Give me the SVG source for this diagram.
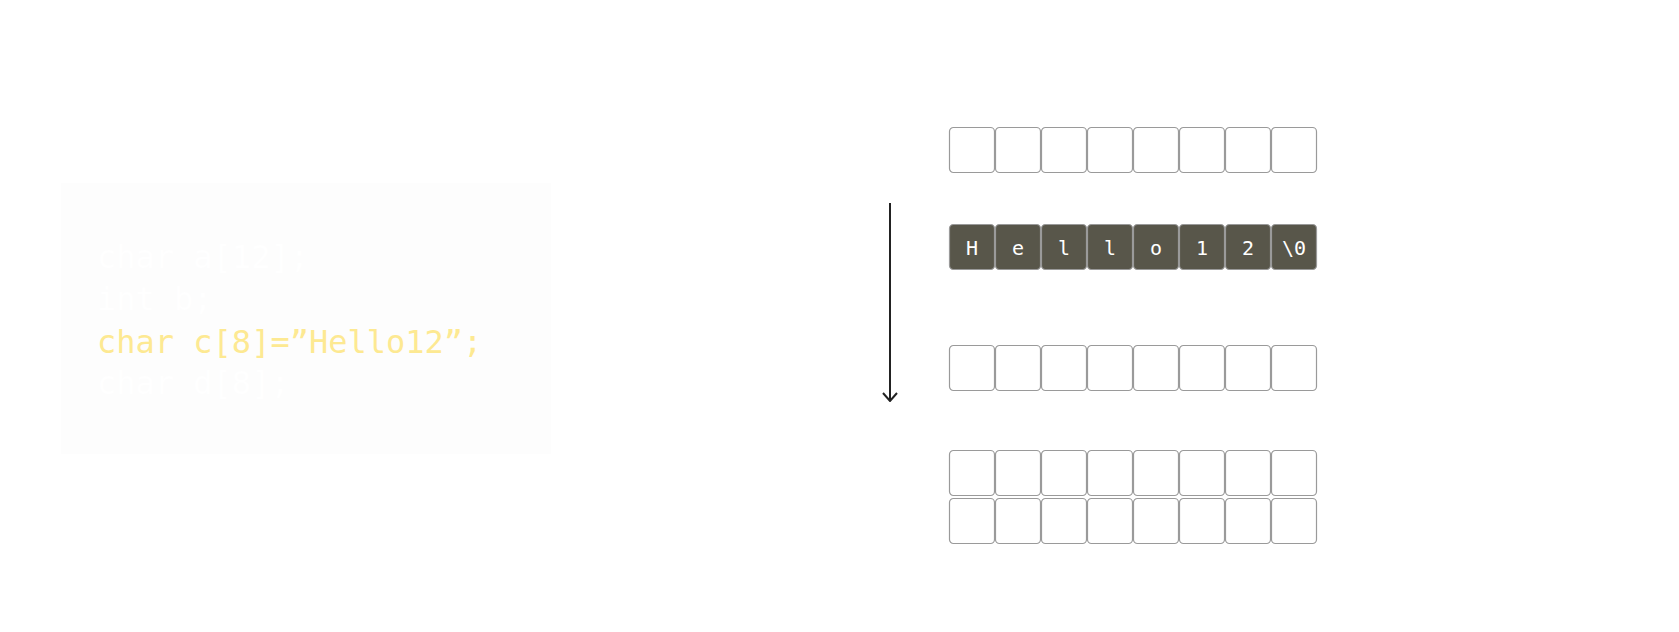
<svg xmlns="http://www.w3.org/2000/svg" width="1679" height="632" viewBox="0 0 1679 632">
<defs>
<style>
.cell{fill:#ffffff;stroke:#9a9a9a;stroke-width:1.2}
.dark{fill:#58564a;stroke:#9a9a9a;stroke-width:1.2}
.ct{font-family:"DejaVu Sans Mono","Liberation Mono",monospace;font-size:20px;fill:#ffffff;text-anchor:middle}
.code{font-family:"DejaVu Sans Mono","Liberation Mono",monospace;font-size:32px}
</style>
<marker id="arr" viewBox="0 0 10 16" refX="9" refY="8" markerWidth="10" markerHeight="16" markerUnits="userSpaceOnUse" orient="auto">
<path d="M1,1 L9,8 L1,15" fill="none" stroke="#222" stroke-width="2"/>
</marker>
<symbol id="row" overflow="visible">
<rect class="cell" x="0" y="0" width="45" height="45" rx="4"/>
<rect class="cell" x="46" y="0" width="45" height="45" rx="4"/>
<rect class="cell" x="92" y="0" width="45" height="45" rx="4"/>
<rect class="cell" x="138" y="0" width="45" height="45" rx="4"/>
<rect class="cell" x="184" y="0" width="45" height="45" rx="4"/>
<rect class="cell" x="230" y="0" width="45" height="45" rx="4"/>
<rect class="cell" x="276" y="0" width="45" height="45" rx="4"/>
<rect class="cell" x="322" y="0" width="45" height="45" rx="4"/>
</symbol>
</defs>
<rect width="1679" height="632" fill="#ffffff"/>

<g id="code-block">
<rect x="61" y="183" width="490" height="271" fill="#fdfdfd"/>
<text class="code" x="97" y="268" fill="#ffffff">char a[12];</text>
<text class="code" x="97" y="310" fill="#ffffff">int b;</text>
<text class="code" x="97" y="352.5" fill="#fde992">char c[8]=”Hello12”;</text>
<text class="code" x="97" y="394" fill="#ffffff">char d[8];</text>
</g>

<g id="connectors">
<line x1="890" y1="203" x2="890" y2="401" stroke="#222" stroke-width="2" marker-end="url(#arr)"/>
</g>

<g id="row-a">
<use href="#row" x="949.5" y="127.5"/>
</g>

<g id="row-c">
<rect class="dark" x="949.5" y="224.5" width="45" height="45" rx="4"/>
<rect class="dark" x="995.5" y="224.5" width="45" height="45" rx="4"/>
<rect class="dark" x="1041.5" y="224.5" width="45" height="45" rx="4"/>
<rect class="dark" x="1087.5" y="224.5" width="45" height="45" rx="4"/>
<rect class="dark" x="1133.5" y="224.5" width="45" height="45" rx="4"/>
<rect class="dark" x="1179.5" y="224.5" width="45" height="45" rx="4"/>
<rect class="dark" x="1225.5" y="224.5" width="45" height="45" rx="4"/>
<rect class="dark" x="1271.5" y="224.5" width="45" height="45" rx="4"/>
<text class="ct" x="972" y="254.5">H</text>
<text class="ct" x="1018" y="254.5">e</text>
<text class="ct" x="1064" y="254.5">l</text>
<text class="ct" x="1110" y="254.5">l</text>
<text class="ct" x="1156" y="254.5">o</text>
<text class="ct" x="1202" y="254.5">1</text>
<text class="ct" x="1248" y="254.5">2</text>
<text class="ct" x="1294" y="254.5">\0</text>
</g>

<g id="row-b">
<use href="#row" x="949.5" y="345.5"/>
</g>

<g id="row-d">
<use href="#row" x="949.5" y="450.5"/>
<use href="#row" x="949.5" y="498.5"/>
</g>
</svg>
